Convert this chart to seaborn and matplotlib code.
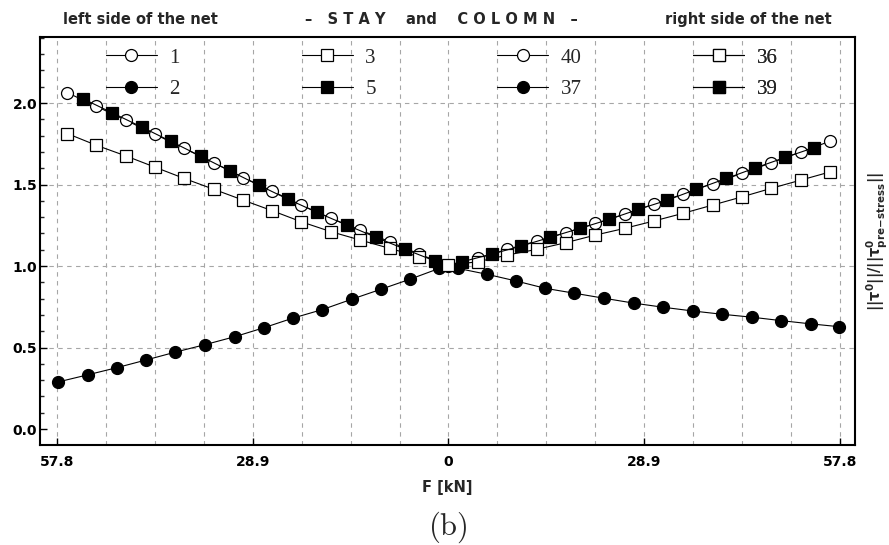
import numpy as np
import pandas as pd
import matplotlib
matplotlib.use("Agg")
import matplotlib.pyplot as plt
import seaborn as sns

# ---------------- data ----------------
# left side of the net (plotted at negative F, labelled by |F|)
x_open_left = [-56.3, -52.0, -47.6, -43.3, -39.0, -34.6, -30.3, -26.0, -21.7, -17.3, -13.0, -8.66, -4.33, 0.0]
s1 = [2.064, 1.980, 1.894, 1.808, 1.721, 1.633, 1.543, 1.459, 1.373, 1.292, 1.220, 1.149, 1.073, 1.003]
x_sq_left = [-54.0, -49.7, -45.3, -41.0, -36.6, -32.3, -28.0, -23.7, -19.4, -15.0, -10.7, -6.35, -2.02]
s5 = [2.027, 1.941, 1.853, 1.765, 1.674, 1.584, 1.496, 1.410, 1.329, 1.251, 1.176, 1.102, 1.031]
x_open3_left = [-56.3, -52.0, -47.6, -43.3, -39.0, -34.6, -30.3, -26.0, -21.7, -17.3, -13.0, -8.66, -4.33]
s3 = [1.813, 1.741, 1.675, 1.606, 1.537, 1.470, 1.404, 1.339, 1.271, 1.210, 1.159, 1.108, 1.057]
x_dot_left = [-57.7, -53.2, -48.9, -44.6, -40.3, -35.9, -31.5, -27.2, -23.0, -18.6, -14.3, -10.0, -5.75, -1.33]
s2 = [0.288, 0.333, 0.377, 0.424, 0.472, 0.518, 0.567, 0.622, 0.680, 0.733, 0.796, 0.857, 0.918, 0.986]

# right side of the net
x_open_right = [4.33, 8.66, 13.0, 17.3, 21.7, 26.0, 30.3, 34.6, 39.0, 43.3, 47.6, 52.0, 56.3]
s40 = [1.047, 1.102, 1.153, 1.204, 1.261, 1.318, 1.380, 1.441, 1.506, 1.568, 1.633, 1.700, 1.765]
x_sq_right = [2.02, 6.35, 10.7, 15.0, 19.4, 23.7, 28.0, 32.3, 36.6, 41.0, 45.3, 49.7, 54.0]
s39 = [1.026, 1.073, 1.122, 1.176, 1.231, 1.286, 1.347, 1.404, 1.471, 1.537, 1.602, 1.666, 1.727]
x_open36_right = [0.0, 4.33, 8.66, 13.0, 17.3, 21.7, 26.0, 30.3, 34.6, 39.0, 43.3, 47.6, 52.0, 56.3]
s36 = [1.006, 1.026, 1.067, 1.102, 1.143, 1.190, 1.231, 1.276, 1.323, 1.374, 1.424, 1.476, 1.527, 1.577]
x_dot_right = [1.33, 5.71, 10.0, 14.3, 18.6, 23.0, 27.4, 31.7, 36.1, 40.4, 44.8, 49.1, 53.5, 57.6]
s37 = [0.986, 0.949, 0.908, 0.863, 0.833, 0.802, 0.772, 0.747, 0.724, 0.704, 0.686, 0.665, 0.645, 0.628]

xtick_pos = [-57.8, -28.9, 0.0, 28.9, 57.8]
xtick_labels = ["57.8", "28.9", "0", "28.9", "57.8"]
ytick_pos = [0.0, 0.5, 1.0, 1.5, 2.0]
ytick_labels = ["0.0", "0.5", "1.0", "1.5", "2.0"]
grid_x = [-57.8, -50.575, -43.35, -36.125, -28.9, -21.675, -14.45, -7.225, 0.0,
          7.225, 14.45, 21.675, 28.9, 36.125, 43.35, 50.575, 57.8]
grid_y = [0.5, 1.0, 1.5, 2.0]

# ---------------- style ----------------
sns.set_theme(style="white")
plt.rcParams["font.family"] = ["DejaVu Sans"]
plt.rcParams["font.weight"] = "bold"

fig = plt.figure(figsize=(8.89, 5.45), dpi=100)
ax = fig.add_axes([0.045, 0.1835, 0.9617 - 0.045, 0.9321 - 0.1835])

common = dict(color="black", linewidth=0.8, markeredgecolor="black",
              markeredgewidth=0.9, legend=False, estimator=None, sort=False, ax=ax)
open_c = dict(marker="o", markerfacecolor="white", markersize=8.6)
fill_c = dict(marker="o", markerfacecolor="black", markersize=8.6)
open_s = dict(marker="s", markerfacecolor="white", markersize=8.0)
fill_s = dict(marker="s", markerfacecolor="black", markersize=8.0)

series = [
    ("1", x_open_left, s1, open_c),
    ("2", x_dot_left, s2, fill_c),
    ("3", x_open3_left, s3, open_s),
    ("5", x_sq_left, s5, fill_s),
    ("40", x_open_right, s40, open_c),
    ("37", x_dot_right, s37, fill_c),
    ("36", x_open36_right, s36, open_s),
    ("39", x_sq_right, s39, fill_s),
]
handles = {}
for name, xs, ys, st in series:
    df = pd.DataFrame({"F": xs, "r": ys})
    n0 = len(ax.lines)
    sns.lineplot(data=df, x="F", y="r", **st, **common)
    handles[name] = ax.lines[n0]

ax.set_xlim(-60.3, 60.0)
ax.set_ylim(-0.098, 2.405)

# grid
for gx in grid_x:
    ax.axvline(gx, color="#a6a6a6", lw=0.8, ls=(0, (4, 4)), zorder=0)
for gy in grid_y:
    ax.axhline(gy, color="#a6a6a6", lw=0.8, ls=(0, (4, 4)), zorder=0)

# spines / ticks
for sp in ax.spines.values():
    sp.set_visible(True)
    sp.set_color("black")
    sp.set_linewidth(1.5)
ax.set_xticks(xtick_pos)
ax.set_xticklabels(xtick_labels, fontsize=10, fontweight="bold")
ax.set_yticks(ytick_pos)
ax.set_yticklabels(ytick_labels, fontsize=10, fontweight="bold")
ax.set_yticks(np.arange(0.0, 2.41, 0.1), minor=True)
ax.tick_params(axis="both", which="major", direction="in", length=5, width=1,
               color="black", labelcolor="black")
ax.tick_params(axis="x", pad=7, bottom=True, top=False)
ax.tick_params(axis="y", pad=2, left=True, right=False)
ax.tick_params(axis="y", which="minor", direction="in", length=3, width=1, left=True)
ax.set_xlabel("F [kN]", fontsize=10.5, fontweight="bold", labelpad=8)
ax.set_ylabel("")

# legends: 4 columns
cols = [(-50.575, ["1", "2"]), (-21.675, ["3", "5"]), (7.225, ["40", "37"]), (36.125, ["36", "39"])]
trans = ax.get_xaxis_transform()
for cx, names in cols:
    leg = ax.legend([handles[n] for n in names], names, loc="upper left",
                    bbox_to_anchor=(cx, 0.973), bbox_transform=trans,
                    frameon=False, borderpad=0, borderaxespad=0,
                    handlelength=2.45, handletextpad=0.6, labelspacing=0.56,
                    prop={"family": "Liberation Serif", "size": 15, "weight": "normal"})
    ax.add_artist(leg)

# titles above the axes
ax.text(0.1227, 1.042, "left side of the net", transform=ax.transAxes,
        ha="center", va="center", fontsize=10.5, fontweight="bold")
ax.text(0.492, 1.042, "–   S T A Y    and    C O L O M N   –", transform=ax.transAxes,
        ha="center", va="center", fontsize=10.5, fontweight="bold")
ax.text(0.869, 1.042, "right side of the net", transform=ax.transAxes,
        ha="center", va="center", fontsize=10.5, fontweight="bold")

# right side label
ax.text(1.028, 0.5, r"$\mathbf{||\tau^0||/||\tau^0_{pre\!-\!stress}||}$",
        transform=ax.transAxes, rotation=90, ha="center", va="center",
        fontsize=10.5, math_fontfamily="dejavusans")

# caption
fig.text(0.504, 0.033, r"$\mathrm{(b)}$", ha="center", va="center",
         fontsize=22, math_fontfamily="cm")

fig.savefig("out.png", dpi=100)
